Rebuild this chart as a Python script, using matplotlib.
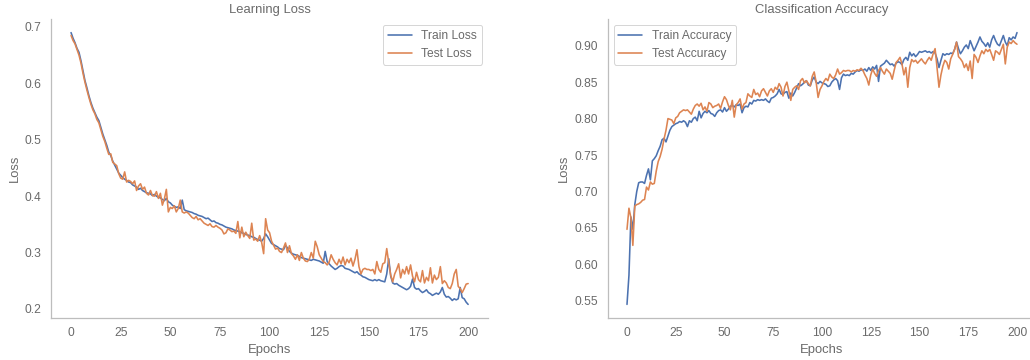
import matplotlib
matplotlib.use("Agg")
import matplotlib.pyplot as plt
import seaborn as sns
import numpy as np

epochs = list(range(201))

train_loss = [
    0.690, 0.680, 0.672, 0.662, 0.655, 0.640, 0.622, 0.605, 0.592, 0.578,
    0.566, 0.556, 0.548, 0.540, 0.534, 0.522, 0.510, 0.500, 0.490, 0.478,
    0.472, 0.462, 0.455, 0.448, 0.441, 0.437, 0.433, 0.430, 0.428, 0.425,
    0.424, 0.420, 0.418, 0.416, 0.412, 0.414, 0.410, 0.408, 0.406, 0.405,
    0.404, 0.401, 0.403, 0.400, 0.398, 0.397, 0.394, 0.392, 0.396, 0.390,
    0.388, 0.384, 0.382, 0.380, 0.381, 0.378, 0.393, 0.376, 0.374, 0.373,
    0.372, 0.371, 0.369, 0.368, 0.366, 0.365, 0.364, 0.362, 0.360, 0.361,
    0.358, 0.355, 0.356, 0.353, 0.352, 0.350, 0.349, 0.347, 0.345, 0.344,
    0.343, 0.342, 0.340, 0.339, 0.338, 0.337, 0.335, 0.334, 0.332, 0.331,
    0.330, 0.328, 0.327, 0.325, 0.323, 0.322, 0.320, 0.325, 0.333, 0.328,
    0.322, 0.316, 0.314, 0.312, 0.310, 0.307, 0.306, 0.305, 0.313, 0.308,
    0.302, 0.299, 0.297, 0.296, 0.295, 0.293, 0.291, 0.290, 0.289, 0.288,
    0.287, 0.286, 0.288, 0.287, 0.286, 0.285, 0.283, 0.281, 0.302, 0.284,
    0.280, 0.276, 0.273, 0.270, 0.272, 0.275, 0.277, 0.276, 0.272, 0.271,
    0.270, 0.268, 0.266, 0.264, 0.266, 0.262, 0.260, 0.257, 0.256, 0.254,
    0.252, 0.251, 0.250, 0.252, 0.250, 0.252, 0.250, 0.249, 0.248, 0.262,
    0.289, 0.258, 0.246, 0.244, 0.245, 0.242, 0.240, 0.238, 0.236, 0.234,
    0.236, 0.240, 0.253, 0.238, 0.235, 0.236, 0.232, 0.229, 0.231, 0.234,
    0.229, 0.227, 0.224, 0.226, 0.228, 0.226, 0.230, 0.238, 0.226, 0.221,
    0.222, 0.219, 0.215, 0.218, 0.216, 0.218, 0.238, 0.220, 0.218, 0.212,
    0.208,
]

test_loss = [
    0.685, 0.676, 0.670, 0.660, 0.650, 0.636, 0.618, 0.602, 0.588, 0.575,
    0.563, 0.553, 0.546, 0.536, 0.530, 0.518, 0.506, 0.497, 0.485, 0.474,
    0.475, 0.460, 0.457, 0.454, 0.440, 0.432, 0.430, 0.443, 0.425, 0.428,
    0.426, 0.422, 0.427, 0.410, 0.418, 0.422, 0.412, 0.416, 0.405, 0.402,
    0.410, 0.401, 0.400, 0.408, 0.396, 0.405, 0.384, 0.395, 0.412, 0.372,
    0.380, 0.378, 0.383, 0.372, 0.378, 0.393, 0.372, 0.370, 0.372, 0.370,
    0.366, 0.362, 0.360, 0.364, 0.358, 0.360, 0.356, 0.352, 0.350, 0.348,
    0.351, 0.346, 0.345, 0.348, 0.345, 0.343, 0.340, 0.333, 0.335, 0.342,
    0.340, 0.337, 0.338, 0.334, 0.355, 0.326, 0.345, 0.328, 0.336, 0.330,
    0.325, 0.352, 0.322, 0.324, 0.320, 0.330, 0.318, 0.298, 0.360, 0.340,
    0.335, 0.320, 0.313, 0.306, 0.308, 0.302, 0.300, 0.308, 0.317, 0.300,
    0.312, 0.298, 0.294, 0.288, 0.296, 0.286, 0.300, 0.290, 0.285, 0.284,
    0.288, 0.300, 0.290, 0.320, 0.310, 0.296, 0.290, 0.284, 0.282, 0.278,
    0.283, 0.296, 0.288, 0.282, 0.278, 0.288, 0.280, 0.292, 0.278, 0.288,
    0.282, 0.290, 0.276, 0.288, 0.305, 0.275, 0.262, 0.270, 0.272, 0.270,
    0.270, 0.268, 0.270, 0.262, 0.284, 0.270, 0.265, 0.280, 0.282, 0.307,
    0.282, 0.260, 0.248, 0.262, 0.270, 0.280, 0.255, 0.270, 0.262, 0.275,
    0.262, 0.278, 0.258, 0.248, 0.265, 0.252, 0.248, 0.268, 0.246, 0.256,
    0.250, 0.273, 0.246, 0.260, 0.252, 0.256, 0.275, 0.245, 0.250, 0.246,
    0.238, 0.236, 0.245, 0.262, 0.270, 0.240, 0.236, 0.229, 0.236, 0.244,
    0.245,
]

train_acc = [
    0.545, 0.585, 0.665, 0.648, 0.682, 0.700, 0.712, 0.713, 0.713, 0.711,
    0.722, 0.731, 0.716, 0.742, 0.745, 0.749, 0.756, 0.762, 0.771, 0.773,
    0.768, 0.776, 0.784, 0.789, 0.791, 0.793, 0.794, 0.796, 0.795, 0.797,
    0.795, 0.789, 0.797, 0.795, 0.800, 0.802, 0.797, 0.810, 0.801, 0.807,
    0.810, 0.808, 0.811, 0.807, 0.806, 0.803, 0.808, 0.811, 0.812, 0.809,
    0.815, 0.810, 0.813, 0.817, 0.818, 0.816, 0.819, 0.818, 0.820, 0.808,
    0.815, 0.817, 0.816, 0.822, 0.820, 0.825, 0.824, 0.826, 0.825, 0.826,
    0.825, 0.827, 0.824, 0.822, 0.828, 0.829, 0.831, 0.834, 0.840, 0.834,
    0.833, 0.836, 0.837, 0.828, 0.835, 0.831, 0.836, 0.842, 0.848, 0.845,
    0.847, 0.850, 0.852, 0.846, 0.845, 0.853, 0.857, 0.850, 0.848, 0.851,
    0.849, 0.848, 0.847, 0.844, 0.845, 0.850, 0.853, 0.855, 0.852, 0.840,
    0.856, 0.861, 0.859, 0.860, 0.859, 0.862, 0.861, 0.864, 0.866, 0.865,
    0.867, 0.866, 0.868, 0.865, 0.870, 0.866, 0.871, 0.868, 0.873, 0.851,
    0.872, 0.874, 0.876, 0.880, 0.877, 0.874, 0.875, 0.872, 0.876, 0.878,
    0.877, 0.874, 0.881, 0.884, 0.880, 0.891, 0.886, 0.889, 0.885, 0.888,
    0.892, 0.891, 0.892, 0.893, 0.891, 0.892, 0.890, 0.892, 0.890, 0.882,
    0.870, 0.880, 0.889, 0.887, 0.889, 0.888, 0.890, 0.889, 0.895, 0.905,
    0.896, 0.889, 0.893, 0.898, 0.901, 0.896, 0.907, 0.900, 0.893, 0.899,
    0.905, 0.912, 0.906, 0.903, 0.899, 0.904, 0.898, 0.908, 0.914, 0.907,
    0.902, 0.900, 0.907, 0.914, 0.905, 0.900, 0.911, 0.908, 0.912, 0.910,
    0.918,
]

test_acc = [
    0.648, 0.677, 0.664, 0.626, 0.680, 0.682, 0.683, 0.685, 0.688, 0.689,
    0.706, 0.702, 0.713, 0.710, 0.711, 0.728, 0.741, 0.748, 0.758, 0.772,
    0.784, 0.800, 0.799, 0.798, 0.793, 0.801, 0.803, 0.808, 0.810, 0.812,
    0.811, 0.812, 0.809, 0.806, 0.813, 0.818, 0.820, 0.817, 0.821, 0.812,
    0.816, 0.810, 0.822, 0.820, 0.815, 0.817, 0.818, 0.820, 0.814, 0.823,
    0.830, 0.826, 0.818, 0.812, 0.825, 0.802, 0.819, 0.822, 0.827, 0.813,
    0.820, 0.822, 0.834, 0.831, 0.829, 0.840, 0.833, 0.835, 0.830, 0.838,
    0.841, 0.836, 0.831, 0.838, 0.841, 0.836, 0.843, 0.840, 0.848, 0.843,
    0.831, 0.844, 0.850, 0.838, 0.825, 0.840, 0.843, 0.845, 0.840, 0.852,
    0.855, 0.849, 0.852, 0.848, 0.845, 0.858, 0.864, 0.850, 0.829, 0.840,
    0.845, 0.851, 0.855, 0.852, 0.861, 0.857, 0.855, 0.860, 0.868, 0.861,
    0.863, 0.866, 0.865, 0.866, 0.866, 0.864, 0.866, 0.865, 0.867, 0.866,
    0.869, 0.866, 0.860, 0.855, 0.846, 0.860, 0.868, 0.862, 0.858, 0.866,
    0.870, 0.865, 0.861, 0.868, 0.865, 0.862, 0.854, 0.866, 0.877, 0.880,
    0.884, 0.875, 0.860, 0.870, 0.843, 0.870, 0.881, 0.878, 0.880, 0.876,
    0.879, 0.882, 0.878, 0.875, 0.880, 0.884, 0.880, 0.889, 0.896, 0.870,
    0.843, 0.860, 0.872, 0.880, 0.877, 0.868, 0.882, 0.888, 0.895, 0.905,
    0.885, 0.882, 0.878, 0.870, 0.875, 0.866, 0.879, 0.855, 0.888, 0.884,
    0.877, 0.886, 0.893, 0.889, 0.895, 0.892, 0.895, 0.888, 0.880, 0.893,
    0.891, 0.888, 0.895, 0.902, 0.875, 0.898, 0.905, 0.903, 0.907, 0.904,
    0.902,
]

sns.set_theme(style="white")
TXT = "#6a6a6a"
plt.rcParams["font.family"] = ["Liberation Sans", "DejaVu Sans"]
plt.rcParams["text.color"] = TXT
plt.rcParams["axes.labelcolor"] = TXT
plt.rcParams["xtick.color"] = TXT
plt.rcParams["ytick.color"] = TXT
plt.rcParams["axes.edgecolor"] = "#bdbdbd"
plt.rcParams["axes.titlecolor"] = TXT
plt.rcParams["xtick.labelsize"] = 12
plt.rcParams["ytick.labelsize"] = 12
plt.rcParams["axes.labelsize"] = 13
plt.rcParams["axes.titlesize"] = 13
plt.rcParams["legend.fontsize"] = 12
plt.rcParams["lines.linewidth"] = 1.6

W, H, DPI = 1030, 360, 72
fig = plt.figure(figsize=(W / DPI, H / DPI), dpi=DPI)

ax1 = fig.add_axes([51.2 / W, 42 / H, 436.8 / W, 299 / H])
ax2 = fig.add_axes([607.5 / W, 42 / H, 429 / W, 299 / H])

blue, orange = sns.color_palette()[0], sns.color_palette()[1]

ax1.plot(epochs, train_loss, color=blue, label="Train Loss")
ax1.plot(epochs, test_loss, color=orange, label="Test Loss")
ax1.set_title("Learning Loss")
ax1.set_xlabel("Epochs")
ax1.set_ylabel("Loss")
ax1.legend(loc="upper right")

ax2.plot(epochs, train_acc, color=blue, label="Train Accuracy")
ax2.plot(epochs, test_acc, color=orange, label="Test Accuracy")
ax2.set_title("Classification Accuracy")
ax2.set_xlabel("Epochs")
ax2.set_ylabel("Loss")
ax2.legend(loc="upper left")

for ax in (ax1, ax2):
    sns.despine(ax=ax)

fig.savefig("out.png", dpi=DPI)
